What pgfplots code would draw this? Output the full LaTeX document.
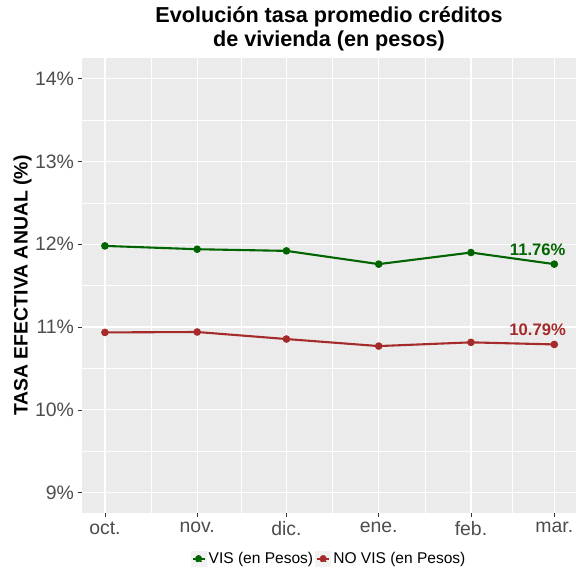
\documentclass[border=0pt]{standalone}
\usepackage{pgfplots}
\pgfplotsset{compat=1.18}
\usepackage{fontspec}
\setmainfont{Liberation Sans}

\definecolor{panel}{HTML}{EBEBEB}
\definecolor{ticktext}{HTML}{4D4D4D}
\definecolor{tickline}{HTML}{333333}
\definecolor{vis}{HTML}{006400}
\definecolor{novis}{HTML}{A52A2A}
\definecolor{keybg}{HTML}{F2F2F2}

% legend key: grey square, line, point and the "a" of the text layer
\newcommand{\keyimg}[1]{%
  \fill[keybg] (0bp,-7bp) rectangle (14bp,7bp);
  \draw[#1, line width=1.6bp] (1bp,0bp) -- (13bp,0bp);
  \fill[#1] (7bp,0.5bp) circle (2.3bp);
  \node[text=#1, font=\bfseries\fontsize{12}{12}\selectfont, inner sep=0pt] at (7bp,-1.5bp) {a};
}

\begin{document}
\begin{tikzpicture}
\begin{axis}[
  scale only axis, width=494bp, height=455.3bp,
  xmin=-7.7, xmax=158.3, ymin=8.75, ymax=14.25,
  axis background/.style={fill=panel},
  axis line style={draw=none},
  xtick={0,31,61,92,123,151},
  xticklabels={oct.,nov.,dic.,ene.,feb.,mar.},
  minor xtick={15.5,46,76.5,107.5,137},
  ytick={9,10,11,12,13,14},
  yticklabels={9\%,10\%,11\%,12\%,13\%,14\%},
  minor ytick={9.5,10.5,11.5,12.5,13.5},
  grid=both,
  major grid style={white, line width=1.3bp},
  minor grid style={white, line width=0.65bp},
  tick pos=left, tick align=outside,
  major tick length=4bp, minor tick length=0pt,
  tick style={tickline, line width=0.6bp},
  ticklabel style={font=\fontsize{19.5}{19.5}\selectfont, text=ticktext},
  xticklabel style={yshift=-1bp},
  yticklabel style={xshift=-0.5bp},
  title={Evolución tasa promedio créditos\\de vivienda (en pesos)},
  title style={at={(0.5,1)}, anchor=south, inner sep=0pt, yshift=0.5bp,
    align=center, font=\bfseries\fontsize{21.7}{24}\selectfont},
  ylabel={TASA EFECTIVA ANUAL (\%)},
  every axis y label/.style={at={(rel axis cs:-0.1204,0.5)}, rotate=90,
    anchor=center, inner sep=0pt, font=\bfseries\fontsize{19.5}{19.5}\selectfont},
  legend columns=2,
  legend style={at={(0.5,-0.1004)}, anchor=center, draw=none, fill=none,
    font=\fontsize{15.6}{15.6}\selectfont, inner sep=0pt,
    nodes={inner sep=2bp}},
  /tikz/every even column/.append style={column sep=0bp},
]
\addplot[vis, line width=2.1bp, mark=*, mark size=2.7bp,
  legend image code/.code={\keyimg{vis}}]
  coordinates {(0,11.98) (31,11.94) (61,11.92) (92,11.76) (123,11.90) (151,11.76)};
\addlegendentry{VIS (en Pesos)}
\addplot[novis, line width=2.1bp, mark=*, mark size=2.7bp,
  legend image code/.code={\keyimg{novis}}]
  coordinates {(0,10.935) (31,10.94) (61,10.855) (92,10.77) (123,10.815) (151,10.79)};
\addlegendentry{NO VIS (en Pesos)}

\addplot[forget plot, draw=none, mark=none, point meta=explicit symbolic,
  nodes near coords, nodes near coords style={text=vis, anchor=center,
    xshift=-16.6bp, yshift=14.6bp, inner sep=0pt,
    font=\bfseries\fontsize{16.7}{16.7}\selectfont}]
  coordinates {(151,11.76) [11.76\%]};
\addplot[forget plot, draw=none, mark=none, point meta=explicit symbolic,
  nodes near coords, nodes near coords style={text=novis, anchor=center,
    xshift=-16.6bp, yshift=14.9bp, inner sep=0pt,
    font=\bfseries\fontsize{16.7}{16.7}\selectfont}]
  coordinates {(151,10.79) [10.79\%]};
\end{axis}
\pgfresetboundingbox
\path[use as bounding box] (-82bp,-55.7bp) rectangle (494bp,513.3bp);
\end{tikzpicture}
\end{document}
